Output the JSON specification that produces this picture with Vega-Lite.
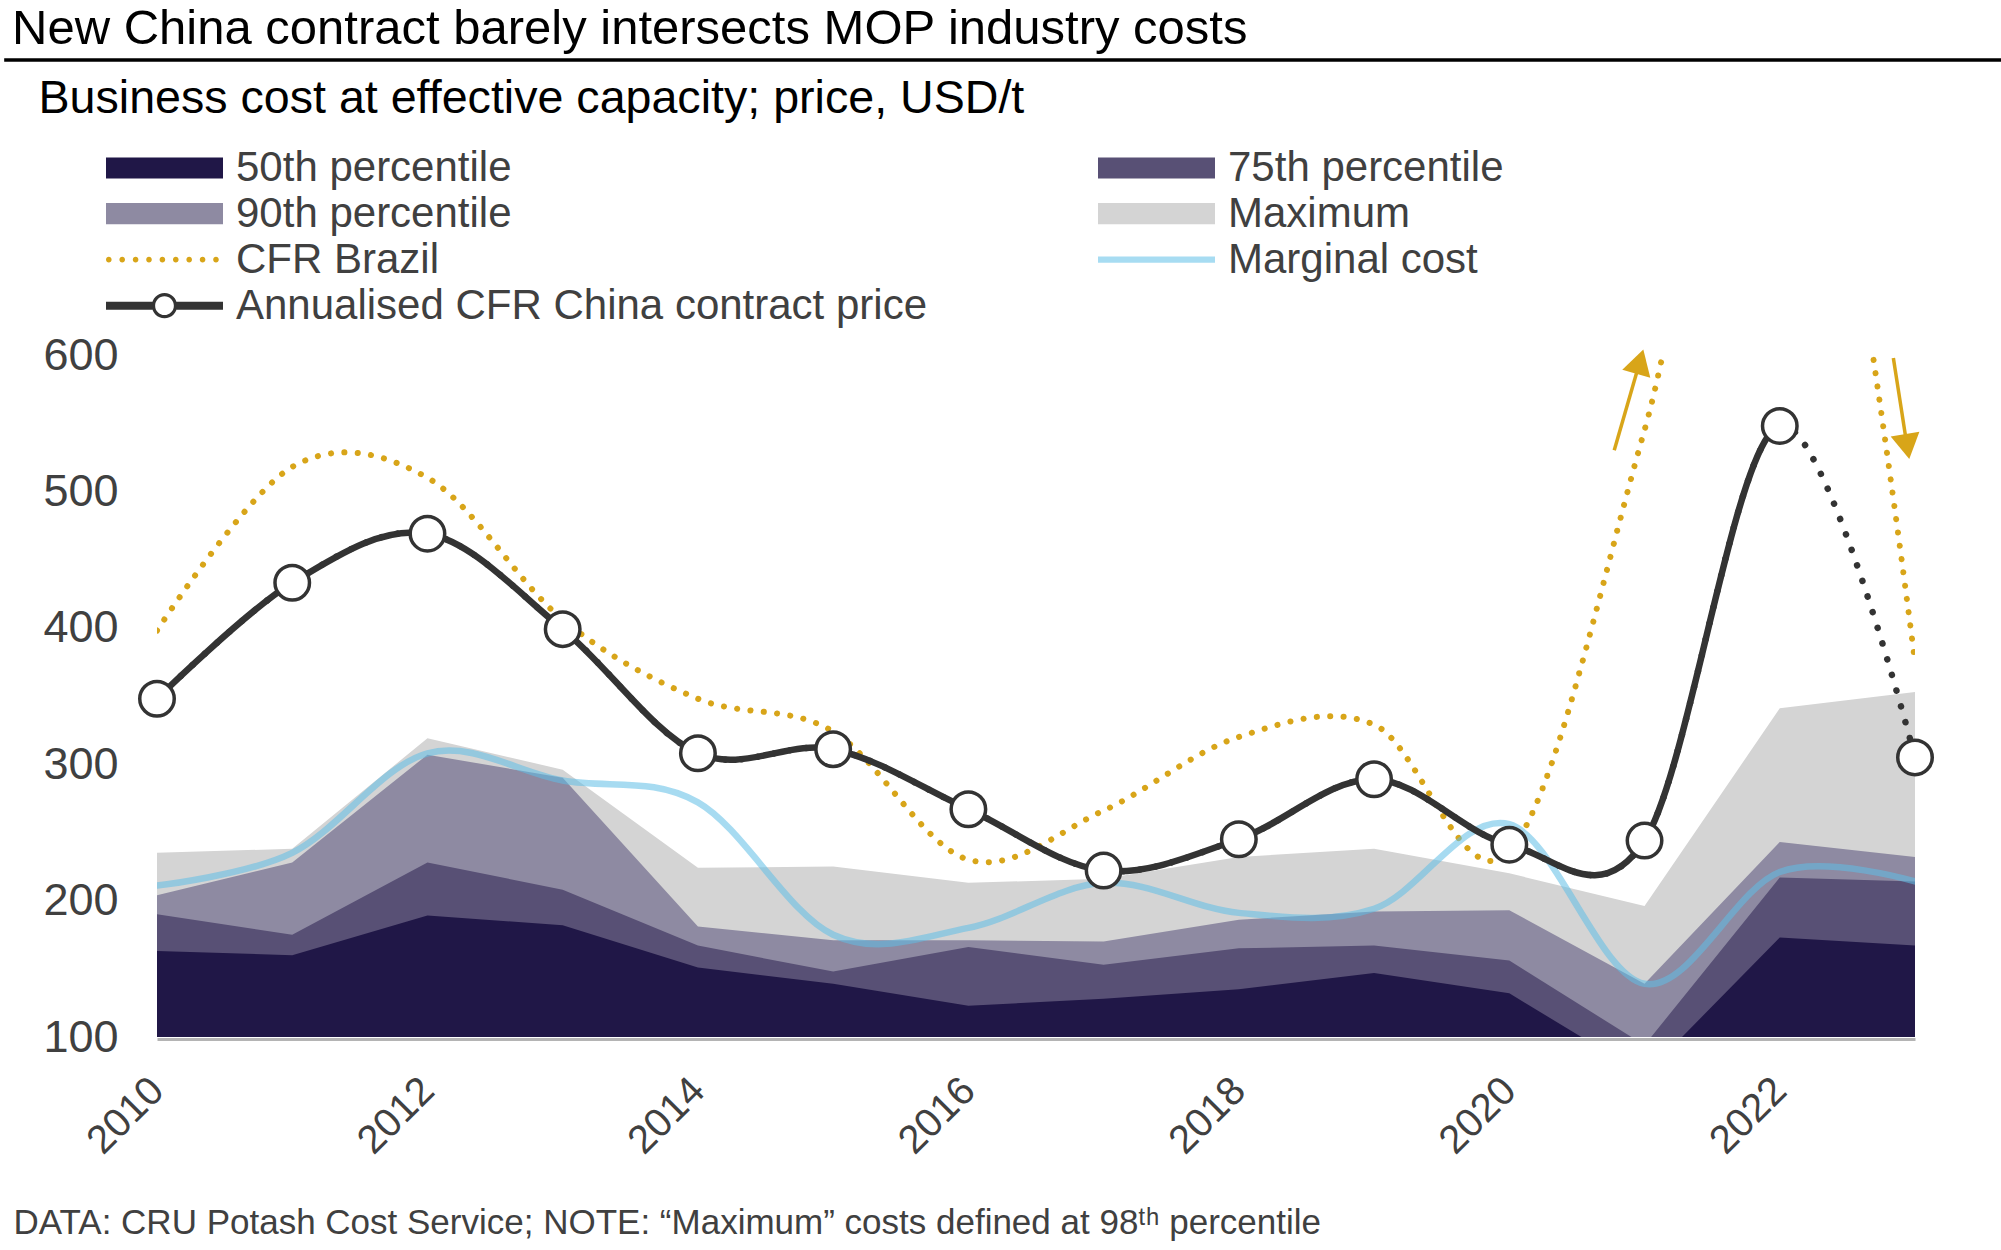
{
  "$schema": "https://vega.github.io/schema/vega-lite/v6.json",
  "width": 1758,
  "height": 682,
  "autosize": {"type": "none"},
  "padding": {"left": 157, "top": 355, "right": 86, "bottom": 213},
  "background": "white",
  "config": {
    "view": {"stroke": null},
    "font": "Liberation Sans",
    "axis": {"labelFont": "Liberation Sans", "titleFont": "Liberation Sans"},
    "legend": {"labelFont": "Liberation Sans", "titleFont": "Liberation Sans"}
  },
  "title": {
    "text": "New China contract barely intersects MOP industry costs",
    "anchor": "start",
    "frame": "group",
    "dx": -145,
    "offset": 4,
    "font": "Liberation Sans",
    "fontSize": 49,
    "fontWeight": "normal",
    "color": "#000000"
  },
  "datasets": {
    "series": [
      {"year": 2010, "series": "Maximum", "value": 235}, {"year": 2011, "series": "Maximum", "value": 238}, {"year": 2012, "series": "Maximum", "value": 319}, {"year": 2013, "series": "Maximum", "value": 296}, {"year": 2014, "series": "Maximum", "value": 224}, {"year": 2015, "series": "Maximum", "value": 225}, {"year": 2016, "series": "Maximum", "value": 213}, {"year": 2017, "series": "Maximum", "value": 216}, {"year": 2018, "series": "Maximum", "value": 232}, {"year": 2019, "series": "Maximum", "value": 238}, {"year": 2020, "series": "Maximum", "value": 220}, {"year": 2021, "series": "Maximum", "value": 196}, {"year": 2022, "series": "Maximum", "value": 341}, {"year": 2023, "series": "Maximum", "value": 353},
      {"year": 2010, "series": "90th percentile", "value": 204}, {"year": 2011, "series": "90th percentile", "value": 228}, {"year": 2012, "series": "90th percentile", "value": 307}, {"year": 2013, "series": "90th percentile", "value": 290}, {"year": 2014, "series": "90th percentile", "value": 181}, {"year": 2015, "series": "90th percentile", "value": 171}, {"year": 2016, "series": "90th percentile", "value": 171}, {"year": 2017, "series": "90th percentile", "value": 170}, {"year": 2018, "series": "90th percentile", "value": 186}, {"year": 2019, "series": "90th percentile", "value": 192}, {"year": 2020, "series": "90th percentile", "value": 193}, {"year": 2021, "series": "90th percentile", "value": 139}, {"year": 2022, "series": "90th percentile", "value": 243}, {"year": 2023, "series": "90th percentile", "value": 232},
      {"year": 2010, "series": "75th percentile", "value": 190}, {"year": 2011, "series": "75th percentile", "value": 175}, {"year": 2012, "series": "75th percentile", "value": 228}, {"year": 2013, "series": "75th percentile", "value": 208}, {"year": 2014, "series": "75th percentile", "value": 167}, {"year": 2015, "series": "75th percentile", "value": 148}, {"year": 2016, "series": "75th percentile", "value": 166}, {"year": 2017, "series": "75th percentile", "value": 153}, {"year": 2018, "series": "75th percentile", "value": 165}, {"year": 2019, "series": "75th percentile", "value": 167}, {"year": 2020, "series": "75th percentile", "value": 156}, {"year": 2021, "series": "75th percentile", "value": 94}, {"year": 2022, "series": "75th percentile", "value": 217}, {"year": 2023, "series": "75th percentile", "value": 214},
      {"year": 2010, "series": "50th percentile", "value": 163}, {"year": 2011, "series": "50th percentile", "value": 160}, {"year": 2012, "series": "50th percentile", "value": 189}, {"year": 2013, "series": "50th percentile", "value": 182}, {"year": 2014, "series": "50th percentile", "value": 151}, {"year": 2015, "series": "50th percentile", "value": 139}, {"year": 2016, "series": "50th percentile", "value": 123}, {"year": 2017, "series": "50th percentile", "value": 128}, {"year": 2018, "series": "50th percentile", "value": 135}, {"year": 2019, "series": "50th percentile", "value": 147}, {"year": 2020, "series": "50th percentile", "value": 132}, {"year": 2021, "series": "50th percentile", "value": 72}, {"year": 2022, "series": "50th percentile", "value": 173}, {"year": 2023, "series": "50th percentile", "value": 167},
      {"year": 2010, "series": "CFR Brazil", "value": 398}, {"year": 2011, "series": "CFR Brazil", "value": 518}, {"year": 2012, "series": "CFR Brazil", "value": 510}, {"year": 2013, "series": "CFR Brazil", "value": 406}, {"year": 2014, "series": "CFR Brazil", "value": 348}, {"year": 2015, "series": "CFR Brazil", "value": 324}, {"year": 2016, "series": "CFR Brazil", "value": 230}, {"year": 2017, "series": "CFR Brazil", "value": 266}, {"year": 2018, "series": "CFR Brazil", "value": 320}, {"year": 2019, "series": "CFR Brazil", "value": 329}, {"year": 2020, "series": "CFR Brazil", "value": 236}, {"year": 2021, "series": "CFR Brazil", "value": 545}, {"year": 2022, "series": "CFR Brazil", "value": 930}, {"year": 2023, "series": "CFR Brazil", "value": 375},
      {"year": 2010, "series": "Marginal cost", "value": 211}, {"year": 2011, "series": "Marginal cost", "value": 235}, {"year": 2012, "series": "Marginal cost", "value": 308}, {"year": 2013, "series": "Marginal cost", "value": 288}, {"year": 2014, "series": "Marginal cost", "value": 272}, {"year": 2015, "series": "Marginal cost", "value": 175}, {"year": 2016, "series": "Marginal cost", "value": 180}, {"year": 2017, "series": "Marginal cost", "value": 213}, {"year": 2018, "series": "Marginal cost", "value": 191}, {"year": 2019, "series": "Marginal cost", "value": 194}, {"year": 2020, "series": "Marginal cost", "value": 256}, {"year": 2021, "series": "Marginal cost", "value": 139}, {"year": 2022, "series": "Marginal cost", "value": 221}, {"year": 2023, "series": "Marginal cost", "value": 214},
      {"year": 2010, "series": "Annualised CFR China contract price", "value": 348}, {"year": 2011, "series": "Annualised CFR China contract price", "value": 433}, {"year": 2012, "series": "Annualised CFR China contract price", "value": 469}, {"year": 2013, "series": "Annualised CFR China contract price", "value": 399}, {"year": 2014, "series": "Annualised CFR China contract price", "value": 308}, {"year": 2015, "series": "Annualised CFR China contract price", "value": 311}, {"year": 2016, "series": "Annualised CFR China contract price", "value": 267}, {"year": 2017, "series": "Annualised CFR China contract price", "value": 222}, {"year": 2018, "series": "Annualised CFR China contract price", "value": 245}, {"year": 2019, "series": "Annualised CFR China contract price", "value": 289}, {"year": 2020, "series": "Annualised CFR China contract price", "value": 241}, {"year": 2021, "series": "Annualised CFR China contract price", "value": 244}, {"year": 2022, "series": "Annualised CFR China contract price", "value": 548}, {"year": 2023, "series": "Annualised CFR China contract price", "value": 305}
    ],
    "arrows": [
      {"id": "up", "year": 2020.776, "value": 530.2, "year2": 2020.965, "value2": 595.1},
      {"id": "down", "year": 2022.84, "value": 597.8, "year2": 2022.942, "value2": 532.9}
    ],
    "arrowheads": [
      {"id": "up", "year": 2020.965, "value": 595.1},
      {"id": "down", "year": 2022.942, "value": 532.9}
    ],
    "separator": [
      {"year": 2008.87, "year2": 2023.64, "value": 816.3}
    ]
  },
  "data": {"name": "series"},
  "encoding": {
    "x": {
      "field": "year",
      "type": "quantitative",
      "scale": {"domain": [2010, 2023], "nice": false, "zero": false},
      "axis": {
        "values": [2010, 2012, 2014, 2016, 2018, 2020, 2022],
        "format": "d",
        "labelAngle": -45,
        "labelAlign": "right",
        "labelBaseline": "middle",
        "labelFontSize": 40,
        "labelColor": "#404040",
        "labelPadding": 45,
        "labelFlush": false,
        "labelOverlap": false,
        "labelBound": false,
        "ticks": false,
        "grid": false,
        "domain": true,
        "domainColor": "#b4b4b4",
        "domainWidth": 3,
        "offset": 2,
        "title": "DATA: CRU Potash Cost Service; NOTE: “Maximum” costs defined at 98ᵗʰ percentile",
        "titleX": -144,
        "titleY": 194,
        "titleAlign": "left",
        "titleBaseline": "alphabetic",
        "titleFontSize": 35,
        "titleFontWeight": "normal",
        "titleColor": "#404040"
      }
    },
    "y": {
      "field": "value",
      "type": "quantitative",
      "stack": null,
      "scale": {"domain": [100, 600], "nice": false, "zero": false},
      "axis": {
        "values": [100, 200, 300, 400, 500, 600],
        "labelFontSize": 45,
        "labelColor": "#404040",
        "labelPadding": 39,
        "labelBaseline": "middle",
        "labelFlush": false,
        "labelOverlap": false,
        "ticks": false,
        "domain": false,
        "grid": false,
        "title": "Business cost at effective capacity; price, USD/t",
        "titleAngle": 0,
        "titleX": -119,
        "titleY": -243,
        "titleAlign": "left",
        "titleBaseline": "alphabetic",
        "titleFontSize": 46.6,
        "titleFontWeight": "normal",
        "titleColor": "#000000"
      }
    }
  },
  "layer": [
    {
      "transform": [{"filter": "datum.series === 'Maximum'"}],
      "mark": {"type": "area", "clip": true, "opacity": 1, "interpolate": "linear", "color": "#d4d4d4"},
      "encoding": {"y2": {"datum": 100}}
    },
    {
      "transform": [{"filter": "datum.series === '90th percentile'"}],
      "mark": {"type": "area", "clip": true, "opacity": 1, "interpolate": "linear", "color": "#8e8aa2"},
      "encoding": {"y2": {"datum": 100}}
    },
    {
      "transform": [{"filter": "datum.series === '75th percentile'"}],
      "mark": {"type": "area", "clip": true, "opacity": 1, "interpolate": "linear", "color": "#585075"},
      "encoding": {"y2": {"datum": 100}}
    },
    {
      "transform": [{"filter": "datum.series === '50th percentile'"}],
      "mark": {"type": "area", "clip": true, "opacity": 1, "interpolate": "linear", "color": "#201747"},
      "encoding": {"y2": {"datum": 100}}
    },
    {
      "transform": [{"filter": "datum.series === 'CFR Brazil'"}],
      "mark": {"type": "line", "clip": true, "interpolate": "cardinal", "tension": 0, "strokeWidth": 6, "strokeDash": [0.1, 13.3], "strokeCap": "round", "color": "#d8a519"},
      "encoding": {}
    },
    {
      "transform": [{"filter": "datum.series === 'Marginal cost'"}],
      "mark": {"type": "line", "clip": true, "interpolate": "cardinal", "tension": 0, "strokeWidth": 6.5, "opacity": 0.55, "strokeCap": "round", "color": "#5ebee6"},
      "encoding": {}
    },
    {
      "transform": [{"filter": "datum.series === 'Annualised CFR China contract price'"}],
      "mark": {"type": "line", "interpolate": "cardinal", "tension": 0, "strokeWidth": 6.5, "strokeDash": [0.1, 16.3], "strokeCap": "round", "color": "#333333"},
      "encoding": {}
    },
    {
      "transform": [{"filter": "datum.series === 'Annualised CFR China contract price'"}],
      "mark": {"type": "line", "interpolate": "cardinal", "tension": 0, "strokeWidth": 6.5, "strokeDash": [2132, 20000], "strokeCap": "butt", "color": "#333333"},
      "encoding": {}
    },
    {
      "transform": [{"filter": "datum.series === 'Annualised CFR China contract price'"}],
      "mark": {"type": "point", "shape": "circle", "filled": true, "size": 1190, "fill": "white", "stroke": "#333333", "strokeWidth": 3.5, "opacity": 1},
      "encoding": {}
    },
    {
      "data": {"name": "arrows"},
      "mark": {"type": "rule", "clip": false, "strokeWidth": 3.5, "color": "#d8a519"},
      "encoding": {
        "x2": {"field": "year2"},
        "y2": {"field": "value2"}
      }
    },
    {
      "data": {"name": "arrowheads"},
      "transform": [{"filter": "datum.id === 'up'"}],
      "mark": {"type": "point", "shape": "triangle-up", "filled": true, "size": 850, "angle": 16.2, "opacity": 1, "strokeWidth": 0, "color": "#d8a519"},
      "encoding": {}
    },
    {
      "data": {"name": "arrowheads"},
      "transform": [{"filter": "datum.id === 'down'"}],
      "mark": {"type": "point", "shape": "triangle-down", "filled": true, "size": 850, "angle": -9.6, "opacity": 1, "strokeWidth": 0, "color": "#d8a519"},
      "encoding": {}
    },
    {
      "data": {"name": "separator"},
      "mark": {"type": "rule", "clip": false, "strokeWidth": 3.5, "color": "#000000"},
      "encoding": {
        "x2": {"field": "year2"}
      }
    },
    {
      "transform": [{"filter": "datum.year === 2010"}],
      "mark": {"type": "point", "filled": true, "opacity": 0, "size": 1, "strokeWidth": 0},
      "encoding": {
        "color": {
          "field": "series",
          "type": "nominal",
          "scale": {
            "domain": ["50th percentile", "75th percentile", "90th percentile", "Maximum", "CFR Brazil", "Marginal cost", "Annualised CFR China contract price"],
            "range": ["#201747", "#585075", "#8e8aa2", "#d4d4d4", "#d8a519", "#a7dcf2", "#333333"]
          },
          "legend": {
            "title": null,
            "orient": "none",
            "direction": "horizontal",
            "legendX": -51,
            "legendY": -210,
            "padding": 0,
            "columns": 2,
            "columnPadding": 171,
            "rowPadding": 0,
            "clipHeight": 45.3,
            "labelFontSize": 42,
            "labelColor": "#404040",
            "labelOffset": 13,
            "labelLimit": 1000,
            "symbolSize": 13689,
            "symbolStrokeWidth": 0,
            "symbolOpacity": 1
          }
        },
        "shape": {
          "field": "series",
          "type": "nominal",
          "scale": {
            "domain": ["50th percentile", "75th percentile", "90th percentile", "Maximum", "CFR Brazil", "Marginal cost", "Annualised CFR China contract price"],
            "range": [
              "M-1,-0.18L1,-0.18L1,0.18L-1,0.18Z",
              "M-1,-0.18L1,-0.18L1,0.18L-1,0.18Z",
              "M-1,-0.18L1,-0.18L1,0.18L-1,0.18Z",
              "M-1,-0.18L1,-0.18L1,0.18L-1,0.18Z",
              "M-1,0A0.048,0.048,0,1,1,-0.904,0A0.048,0.048,0,1,1,-1,0ZM-0.771,0A0.048,0.048,0,1,1,-0.675,0A0.048,0.048,0,1,1,-0.771,0ZM-0.542,0A0.048,0.048,0,1,1,-0.446,0A0.048,0.048,0,1,1,-0.542,0ZM-0.313,0A0.048,0.048,0,1,1,-0.217,0A0.048,0.048,0,1,1,-0.313,0ZM-0.084,0A0.048,0.048,0,1,1,0.012,0A0.048,0.048,0,1,1,-0.084,0ZM0.145,0A0.048,0.048,0,1,1,0.241,0A0.048,0.048,0,1,1,0.145,0ZM0.374,0A0.048,0.048,0,1,1,0.47,0A0.048,0.048,0,1,1,0.374,0ZM0.603,0A0.048,0.048,0,1,1,0.699,0A0.048,0.048,0,1,1,0.603,0ZM0.832,0A0.048,0.048,0,1,1,0.928,0A0.048,0.048,0,1,1,0.832,0Z",
              "M-1,-0.055L1,-0.055L1,0.055L-1,0.055Z",
              "M-1,-0.068L-0.205,-0.068L-0.205,0.068L-1,0.068ZM0.205,-0.068L1,-0.068L1,0.068L0.205,0.068ZM-0.215,0A0.215,0.215,0,1,1,0.215,0A0.215,0.215,0,1,1,-0.215,0ZM-0.16,0A0.16,0.16,0,1,0,0.16,0A0.16,0.16,0,1,0,-0.16,0Z"
            ]
          },
          "legend": {
            "title": null,
            "orient": "none",
            "direction": "horizontal",
            "legendX": -51,
            "legendY": -210,
            "padding": 0,
            "columns": 2,
            "columnPadding": 171,
            "rowPadding": 0,
            "clipHeight": 45.3,
            "labelFontSize": 42,
            "labelColor": "#404040",
            "labelOffset": 13,
            "labelLimit": 1000,
            "symbolSize": 13689,
            "symbolStrokeWidth": 0,
            "symbolOpacity": 1
          }
        }
      }
    }
  ]
}
